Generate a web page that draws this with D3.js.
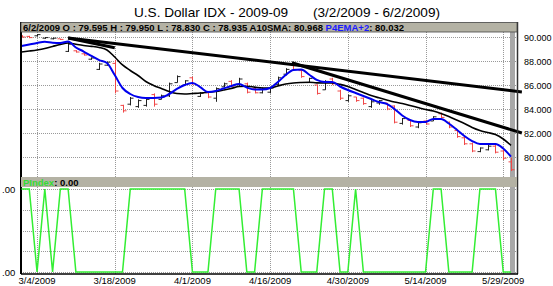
<!DOCTYPE html>
<html><head><meta charset="utf-8">
<script src="https://cdn.jsdelivr.net/npm/d3@7"></script>
<style>body{margin:0;background:#fff}svg{display:block}text{font-family:"Liberation Sans",Arial,sans-serif}</style>
</head><body><svg id="c" width="553" height="286"></svg>
<script>
const dates = ["3/2/2009","3/3/2009","3/4/2009","3/5/2009","3/6/2009","3/9/2009","3/10/2009","3/11/2009","3/12/2009","3/13/2009","3/16/2009","3/17/2009","3/18/2009","3/19/2009","3/20/2009","3/23/2009","3/24/2009","3/25/2009","3/26/2009","3/27/2009","3/30/2009","3/31/2009",
"4/1/2009","4/2/2009","4/3/2009","4/6/2009","4/7/2009","4/8/2009","4/9/2009","4/13/2009","4/14/2009","4/15/2009","4/16/2009","4/17/2009","4/20/2009","4/21/2009","4/22/2009","4/23/2009","4/24/2009","4/27/2009","4/28/2009","4/29/2009","4/30/2009",
"5/1/2009","5/4/2009","5/5/2009","5/6/2009","5/7/2009","5/8/2009","5/11/2009","5/12/2009","5/13/2009","5/14/2009","5/15/2009","5/18/2009","5/19/2009","5/20/2009","5/21/2009","5/22/2009","5/26/2009","5/27/2009","5/28/2009","5/29/2009","6/2/2009"];
const openV  = [90.05,90.05,90.1,89.9,89.85,89.85,88.8,88.85,88.6,88.15,87.3,87.65,87.8,84.3,84.4,84.2,84.3,85.2,84.8,85.1,86.2,86.0,86.6,85.05,85.35,84.9,85.85,86.3,85.9,86.1,85.7,85.35,85.4,86.05,86.9,87.7,87.2,86.2,86.0,85.6,86.5,85.5,84.7,85.0,84.9,84.2,84.5,84.5,84.25,82.8,83.05,82.5,83.0,83.0,83.6,82.9,82.2,81.6,81.1,80.45,80.6,80.9,80.5,79.595];
const highV  = [90.15,90.1,90.25,90.0,89.95,89.85,89.6,88.9,88.65,88.3,87.85,87.95,88.1,84.35,85.0,84.8,84.9,85.3,85.2,86.2,86.8,86.4,86.7,85.4,85.4,85.8,86.2,86.4,86.6,86.2,85.75,85.8,85.8,86.7,87.4,87.85,87.3,86.6,86.05,86.4,86.6,85.6,85.2,85.0,84.95,84.75,84.75,84.5,84.3,83.25,83.1,82.9,83.1,83.4,83.7,82.95,82.25,81.7,81.2,80.8,81.0,81.0,80.6,79.95];
const lowV   = [89.95,89.9,90.05,89.85,89.8,89.75,88.75,88.7,88.45,88.1,87.25,87.6,85.3,83.7,84.3,84.1,84.2,84.2,84.8,85.0,86.2,86.0,86.0,85.0,84.9,84.6,85.8,85.8,85.9,85.3,85.3,85.3,85.3,86.0,86.8,87.2,86.6,86.2,85.2,85.6,86.0,84.75,84.6,84.6,84.35,84.1,84.35,83.9,82.8,82.7,82.5,82.4,82.7,83.0,83.25,82.4,81.6,81.0,80.4,80.4,80.55,80.3,79.75,78.83];
const closeV = [90.0,89.95,90.2,89.95,89.9,89.8,89.4,88.75,88.5,88.25,87.75,87.9,85.5,83.85,84.9,84.7,84.8,84.4,85.1,86.1,86.7,86.35,86.1,85.3,85.0,85.7,86.1,85.9,86.5,85.4,85.35,85.7,85.75,86.6,87.3,87.3,86.7,86.55,85.3,86.3,86.1,84.9,85.1,84.7,84.45,84.6,84.7,84.0,82.9,83.2,82.6,82.85,82.75,83.35,83.3,82.5,81.7,81.1,80.5,80.75,80.9,80.4,79.9,78.935];
const sma10  = [88.75,88.83,88.92,89.04,89.21,89.375,89.5,89.39,89.29,89.22,89.125,88.92,88.33,87.67,87.21,86.79,86.29,85.96,85.71,85.46,85.29,85.25,85.29,85.33,85.39,85.46,85.58,85.71,85.875,85.89,85.82,85.75,85.75,85.92,86.08,86.17,86.21,86.23,86.18,86.17,86.17,86.05,85.875,85.625,85.375,85.125,84.93,84.75,84.58,84.46,84.29,84.125,83.96,83.83,83.625,83.375,83.08,82.79,82.46,82.21,82.04,81.875,81.5,80.968];
const ema4p2 = [89.25,89.375,89.5,89.6,89.52,89.5,89.625,89.125,88.79,88.42,88.08,87.83,86.83,85.75,85.25,85.0,84.92,84.92,84.96,85.25,85.67,86.0,86.17,85.83,85.42,85.5,85.71,85.92,86.08,85.79,85.625,85.625,85.75,86.25,86.83,87.25,87.29,86.875,86.42,86.25,86.25,85.875,85.58,85.33,85.08,84.83,84.58,84.42,84.0,83.46,83.08,82.92,82.92,83.17,83.17,82.79,82.29,81.75,81.33,81.08,81.08,81.08,80.71,80.032];
const pindex = [1,1,0,1,0,1,1,0,0,0,0,0,0,0,1,1,1,1,1,1,1,1,0,0,0,1,1,1,1,0,0,1,1,1,1,1,0,0,0,1,1,0,0,1,0,0,0,0,0,0,0,0,0,1,1,0,0,0,0,1,1,1,0,0];
// trendlines: [startIndex, startValue, endIndex, endValue]
const trendA = [6, 89.92, 64.4, 85.42];
const trendB = [6, 89.92, 12, 89.1];
const trendC = [34.8, 87.85, 64.4, 82.0];
const priceTicks = [80, 82, 84, 86, 88, 90];
const dateTicks = ["3/4/2009","3/18/2009","4/1/2009","4/16/2009","4/30/2009","5/14/2009","5/29/2009"];
const pTicks = [0, 0.25, 0.5, 0.75, 1];
const pTickLabels = [".00", "", "", "", ".00"];

const svg = d3.select("#c");
const L = 21, R = 517;
const x = d3.scaleLinear().domain([0, 63]).range([21.5, 511]);
const y = d3.scaleLinear().domain([80, 90]).range([157, 37]);
const yp = d3.scaleLinear().domain([0, 1]).range([272, 189]);
const UT = 32, UB = 177, LT = 187, LB = 274;

// title
svg.append("text").attr("x", 134).attr("y", 17).attr("font-size", 13.6).attr("fill", "#000").text("U.S. Dollar IDX - 2009-09");
svg.append("text").attr("x", 313).attr("y", 17).attr("font-size", 13.6).attr("fill", "#000").text("(3/2/2009 - 6/2/2009)");

// gridlines
const grid = svg.append("g").attr("stroke", "#999").attr("stroke-dasharray", "1,1").attr("stroke-width", 1);
dateTicks.forEach(d => {
  const xx = Math.round(x(dates.indexOf(d))) + 0.5;
  grid.append("line").attr("x1", xx).attr("x2", xx).attr("y1", UT).attr("y2", UB);
  grid.append("line").attr("x1", xx).attr("x2", xx).attr("y1", LT).attr("y2", LB);
});
priceTicks.forEach(v => {
  const yy = Math.round(y(v)) + 0.5;
  grid.append("line").attr("x1", L).attr("x2", R).attr("y1", yy).attr("y2", yy);
});
pTicks.forEach(v => {
  const yy = Math.round(yp(v)) + 0.5;
  grid.append("line").attr("x1", L).attr("x2", R).attr("y1", yy).attr("y2", yy);
});

// right marker band
svg.append("rect").attr("x", 510).attr("y", UT).attr("width", 5).attr("height", LB - UT).attr("fill", "#a8a8a8");

// upper clip
svg.append("clipPath").attr("id", "up").append("rect").attr("x", L).attr("y", UT).attr("width", R - L).attr("height", UB - UT);
const up = svg.append("g").attr("clip-path", "url(#up)");

// OHLC bars
const bars = up.append("g");
dates.forEach((d, i) => {
  const col = closeV[i] >= openV[i] ? "#222" : "#f04848";
  const xx = Math.round(x(i)) + 0.5;
  const g = bars.append("g").attr("stroke", col).attr("stroke-width", 1);
  g.append("line").attr("x1", xx).attr("x2", xx).attr("y1", y(highV[i])).attr("y2", y(lowV[i]));
  g.append("line").attr("x1", xx - 3).attr("x2", xx).attr("y1", y(openV[i])).attr("y2", y(openV[i]));
  g.append("line").attr("x1", xx).attr("x2", xx + 3).attr("y1", y(closeV[i])).attr("y2", y(closeV[i]));
});

const line = d3.line().x((d, i) => x(i)).y(d => y(d)).curve(d3.curveMonotoneX);
up.append("path").datum(sma10).attr("d", line).attr("fill", "none").attr("stroke", "#000").attr("stroke-width", 1.6);
up.append("path").datum(ema4p2).attr("d", line).attr("fill", "none").attr("stroke", "#0000ee").attr("stroke-width", 2);

// trendlines (extend past right border a little)
[trendA, trendB, trendC].forEach(t => {
  svg.append("line").attr("x1", x(t[0])).attr("y1", y(t[1])).attr("x2", x(t[2])).attr("y2", y(t[3]))
    .attr("stroke", "#000").attr("stroke-width", 3);
});

// borders upper
svg.append("line").attr("x1", L).attr("x2", L).attr("y1", 22).attr("y2", LB).attr("stroke", "#000").attr("stroke-width", 2);
svg.append("line").attr("x1", R + 0.5).attr("x2", R + 0.5).attr("y1", 22).attr("y2", LB).attr("stroke", "#333").attr("stroke-width", 1.5);

// upper header
svg.append("rect").attr("x", L).attr("y", 22.5).attr("width", R - L).attr("height", 9.5).attr("fill", "#b4b2a4").attr("stroke", "#444").attr("stroke-width", 0.8);
const hdr = svg.append("text").attr("x", 23).attr("y", 30.5).attr("font-size", 9.5).attr("font-weight", "bold").attr("fill", "#000");
const last = dates.length - 1;
hdr.append("tspan").text(`${dates[last]} O : ${openV[last].toFixed(3)} H : ${highV[last].toFixed(3)} L : ${lowV[last].toFixed(3)} C : ${closeV[last].toFixed(3)} A10SMA: ${sma10[last].toFixed(3)} `);
hdr.append("tspan").attr("fill", "#1a1aff").text("P4EMA+2");
hdr.append("tspan").text(`: ${ema4p2[last].toFixed(3)}`);

// price axis labels
priceTicks.forEach(v => {
  svg.append("text").attr("x", 524).attr("y", y(v) + 3.5).attr("font-size", 9).attr("fill", "#000").text(d3.format(".3f")(v));
});

// lower header
svg.append("rect").attr("x", L).attr("y", UB).attr("width", R - L).attr("height", LT - UB).attr("fill", "#b4b2a4");
const ph = svg.append("text").attr("x", 23).attr("y", 185.5).attr("font-size", 9.5).attr("font-weight", "bold");
ph.append("tspan").attr("fill", "#33dd33").text("PIndex");
ph.append("tspan").attr("fill", "#000").text(`: ${pindex[last].toFixed(2)}`);

// PIndex line
const pl = d3.line().x((d, i) => x(i)).y(d => yp(d));
svg.append("path").datum(pindex).attr("d", pl).attr("fill", "none").attr("stroke", "#33ee33").attr("stroke-width", 1.5);

// lower axes
svg.append("line").attr("x1", L).attr("x2", R + 1).attr("y1", LB).attr("y2", LB).attr("stroke", "#000").attr("stroke-width", 1.5);
pTicks.forEach((v, i) => {
  if (pTickLabels[i]) svg.append("text").attr("x", 2).attr("y", yp(v) + 3.5).attr("font-size", 9.5).text(pTickLabels[i]);
});

// date axis labels
dateTicks.forEach(d => {
  svg.append("text").attr("x", x(dates.indexOf(d))).attr("y", 284).attr("text-anchor", "middle").attr("font-size", 9.5).text(d);
});
</script></body></html>
